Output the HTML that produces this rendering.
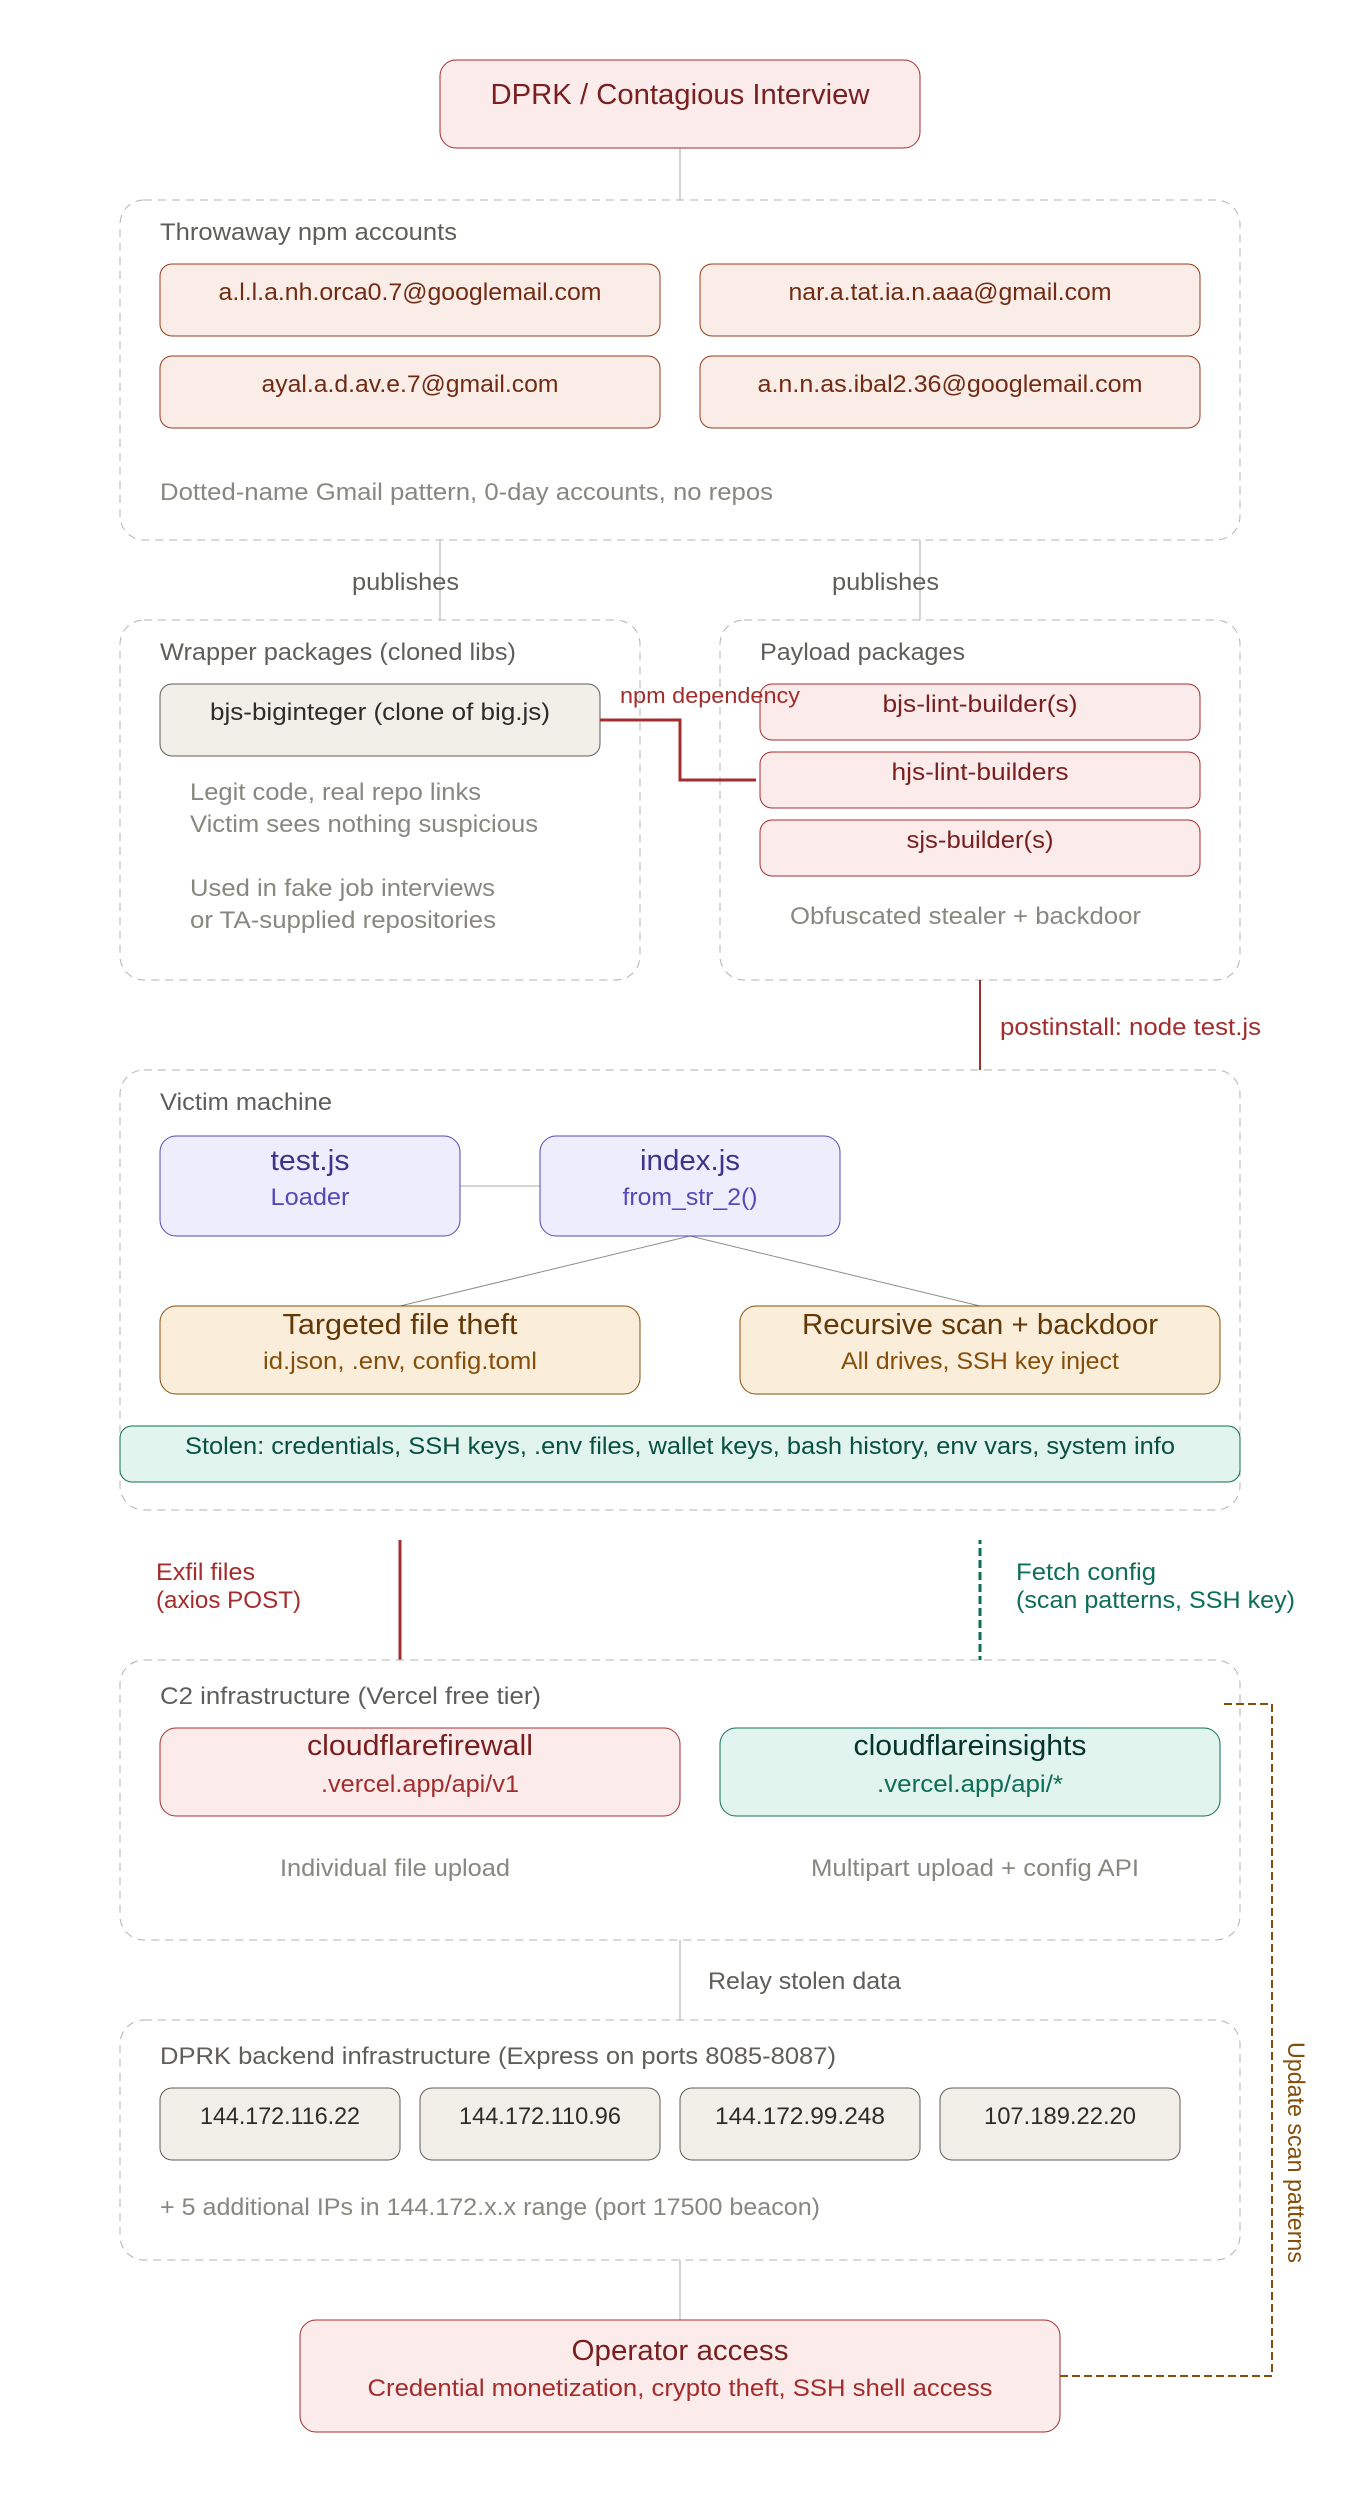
<!DOCTYPE html>
<html lang="en">
<head>
<meta charset="utf-8">
<title>DPRK / Contagious Interview</title>
<style>
html,body{margin:0;padding:0;background:#fff}
svg{display:block}
text{font-family:"Liberation Sans",sans-serif;font-size:24.5px}
.t{font-size:28.5px;text-anchor:middle}
.c{text-anchor:middle}
.lab{fill:#5F5E5A}
.mut{fill:#888780}
.cont{fill:none;stroke:#B4B3AB;stroke-width:1;stroke-dasharray:8 6}
.ln{fill:none;stroke:#AAAAA6;stroke-width:1}
.red{fill:#FCEBEB;stroke:#A32D2D;stroke-width:1}
.cor{fill:#FAECE7;stroke:#993C1D;stroke-width:1}
.gry{fill:#F1EFE8;stroke:#5F5E5A;stroke-width:1}
.pur{fill:#EEEDFE;stroke:#534AB7;stroke-width:1}
.amb{fill:#FAEEDA;stroke:#854F0B;stroke-width:1}
.tea{fill:#E1F5EE;stroke:#0F6E56;stroke-width:1}
</style>
</head>
<body>
<svg xmlns="http://www.w3.org/2000/svg" width="1360" height="2520" viewBox="0 0 1360 2520">
<rect width="1360" height="2520" fill="#fff"/>

<!-- connectors under -->
<path class="ln" d="M680 148V200M440 540V620M920 540V620M680 1940V2020M680 2260V2320M460 1186H540"/>
<path d="M690 1236L400 1306M690 1236L980 1306" fill="none" stroke="#8E8E88" stroke-width="1"/>

<!-- top -->
<rect class="red" x="440" y="60" width="480" height="88" rx="16"/>
<text class="t" x="680" y="104" fill="#791F1F" textLength="379" lengthAdjust="spacingAndGlyphs">DPRK / Contagious Interview</text>

<!-- accounts -->
<rect class="cont" x="120" y="200" width="1120" height="340" rx="24"/>
<text class="lab" x="160" y="240" textLength="297" lengthAdjust="spacingAndGlyphs">Throwaway npm accounts</text>
<rect class="cor" x="160" y="264" width="500" height="72" rx="12"/>
<rect class="cor" x="700" y="264" width="500" height="72" rx="12"/>
<rect class="cor" x="160" y="356" width="500" height="72" rx="12"/>
<rect class="cor" x="700" y="356" width="500" height="72" rx="12"/>
<text class="c" x="410" y="300" fill="#712B13" textLength="383" lengthAdjust="spacingAndGlyphs">a.l.l.a.nh.orca0.7@googlemail.com</text>
<text class="c" x="950" y="300" fill="#712B13" textLength="323" lengthAdjust="spacingAndGlyphs">nar.a.tat.ia.n.aaa@gmail.com</text>
<text class="c" x="410" y="392" fill="#712B13" textLength="297" lengthAdjust="spacingAndGlyphs">ayal.a.d.av.e.7@gmail.com</text>
<text class="c" x="950" y="392" fill="#712B13" textLength="385" lengthAdjust="spacingAndGlyphs">a.n.n.as.ibal2.36@googlemail.com</text>
<text class="mut" x="160" y="500" textLength="613" lengthAdjust="spacingAndGlyphs">Dotted-name Gmail pattern, 0-day accounts, no repos</text>

<text class="lab" x="352" y="590" textLength="107" lengthAdjust="spacingAndGlyphs">publishes</text>
<text class="lab" x="832" y="590" textLength="107" lengthAdjust="spacingAndGlyphs">publishes</text>

<!-- wrapper -->
<rect class="cont" x="120" y="620" width="520" height="360" rx="24"/>
<text class="lab" x="160" y="660" textLength="356" lengthAdjust="spacingAndGlyphs">Wrapper packages (cloned libs)</text>
<rect class="gry" x="160" y="684" width="440" height="72" rx="12"/>
<text class="c" x="380" y="720" fill="#2C2C2A" textLength="340" lengthAdjust="spacingAndGlyphs">bjs-biginteger (clone of big.js)</text>
<text class="mut" x="190" y="800" textLength="291" lengthAdjust="spacingAndGlyphs">Legit code, real repo links</text>
<text class="mut" x="190" y="832" textLength="348" lengthAdjust="spacingAndGlyphs">Victim sees nothing suspicious</text>
<text class="mut" x="190" y="896" textLength="305" lengthAdjust="spacingAndGlyphs">Used in fake job interviews</text>
<text class="mut" x="190" y="928" textLength="306" lengthAdjust="spacingAndGlyphs">or TA-supplied repositories</text>

<!-- payload -->
<rect class="cont" x="720" y="620" width="520" height="360" rx="24"/>
<text class="lab" x="760" y="660" textLength="205" lengthAdjust="spacingAndGlyphs">Payload packages</text>
<rect class="red" x="760" y="684" width="440" height="56" rx="12"/>
<rect class="red" x="760" y="752" width="440" height="56" rx="12"/>
<rect class="red" x="760" y="820" width="440" height="56" rx="12"/>
<text class="c" x="980" y="712" fill="#791F1F" textLength="195" lengthAdjust="spacingAndGlyphs">bjs-lint-builder(s)</text>
<text class="c" x="980" y="780" fill="#791F1F" textLength="177" lengthAdjust="spacingAndGlyphs">hjs-lint-builders</text>
<text class="c" x="980" y="848" fill="#791F1F" textLength="147" lengthAdjust="spacingAndGlyphs">sjs-builder(s)</text>
<text class="mut" x="790" y="924" textLength="351" lengthAdjust="spacingAndGlyphs">Obfuscated stealer + backdoor</text>

<path d="M600 720H680V780H756" fill="none" stroke="#A32D2D" stroke-width="3"/>
<text x="620" y="703" fill="#A32D2D" style="font-size:22.5px" textLength="180" lengthAdjust="spacingAndGlyphs">npm dependency</text>

<path d="M980 980V1070" fill="none" stroke="#A32D2D" stroke-width="2"/>
<text x="1000" y="1035" fill="#A32D2D" textLength="261" lengthAdjust="spacingAndGlyphs">postinstall: node test.js</text>

<!-- victim -->
<rect class="cont" x="120" y="1070" width="1120" height="440" rx="24"/>
<text class="lab" x="160" y="1110" textLength="172" lengthAdjust="spacingAndGlyphs">Victim machine</text>
<rect class="pur" x="160" y="1136" width="300" height="100" rx="16"/>
<rect class="pur" x="540" y="1136" width="300" height="100" rx="16"/>
<text class="t" x="310" y="1170" fill="#3C3489" textLength="79" lengthAdjust="spacingAndGlyphs">test.js</text>
<text class="c" x="310" y="1205" fill="#534AB7" textLength="79" lengthAdjust="spacingAndGlyphs">Loader</text>
<text class="t" x="690" y="1170" fill="#3C3489" textLength="100" lengthAdjust="spacingAndGlyphs">index.js</text>
<text class="c" x="690" y="1205" fill="#534AB7" textLength="135" lengthAdjust="spacingAndGlyphs">from_str_2()</text>
<rect class="amb" x="160" y="1306" width="480" height="88" rx="16"/>
<rect class="amb" x="740" y="1306" width="480" height="88" rx="16"/>
<text class="t" x="400" y="1334" fill="#633806" textLength="235" lengthAdjust="spacingAndGlyphs">Targeted file theft</text>
<text class="c" x="400" y="1369" fill="#854F0B" textLength="274" lengthAdjust="spacingAndGlyphs">id.json, .env, config.toml</text>
<text class="t" x="980" y="1334" fill="#633806" textLength="356" lengthAdjust="spacingAndGlyphs">Recursive scan + backdoor</text>
<text class="c" x="980" y="1369" fill="#854F0B" textLength="278" lengthAdjust="spacingAndGlyphs">All drives, SSH key inject</text>
<rect class="tea" x="120" y="1426" width="1120" height="56" rx="12"/>
<text class="c" x="680" y="1454" fill="#085041" textLength="990" lengthAdjust="spacingAndGlyphs">Stolen: credentials, SSH keys, .env files, wallet keys, bash history, env vars, system info</text>

<!-- exfil / fetch -->
<path d="M398 1540V1660" fill="none" stroke="#A32D2D" stroke-width="3" transform="translate(2,0)"/>
<path d="M980 1540V1660" fill="none" stroke="#0F6E56" stroke-width="3" stroke-dasharray="8 4" stroke-dashoffset="4"/>
<text x="156" y="1580" fill="#A32D2D" textLength="99" lengthAdjust="spacingAndGlyphs">Exfil files</text>
<text x="156" y="1608" fill="#A32D2D" textLength="145" lengthAdjust="spacingAndGlyphs">(axios POST)</text>
<text x="1012" y="1580" fill="#0F6E56" textLength="140" lengthAdjust="spacingAndGlyphs" transform="translate(4,0)">Fetch config</text>
<text x="1012" y="1608" fill="#0F6E56" textLength="279" lengthAdjust="spacingAndGlyphs" transform="translate(4,0)">(scan patterns, SSH key)</text>

<!-- c2 -->
<rect class="cont" x="120" y="1660" width="1120" height="280" rx="24"/>
<text class="lab" x="160" y="1704" textLength="381" lengthAdjust="spacingAndGlyphs">C2 infrastructure (Vercel free tier)</text>
<rect class="red" x="160" y="1728" width="520" height="88" rx="16"/>
<rect class="tea" x="720" y="1728" width="500" height="88" rx="16"/>
<text class="t" x="420" y="1755" fill="#791F1F" textLength="226" lengthAdjust="spacingAndGlyphs">cloudflarefirewall</text>
<text class="c" x="420" y="1792" fill="#A32D2D" textLength="198" lengthAdjust="spacingAndGlyphs">.vercel.app/api/v1</text>
<text class="t" x="970" y="1755" fill="#04342C" textLength="233" lengthAdjust="spacingAndGlyphs">cloudflareinsights</text>
<text class="c" x="970" y="1792" fill="#0F6E56" textLength="186" lengthAdjust="spacingAndGlyphs">.vercel.app/api/*</text>
<text class="mut" x="280" y="1876" textLength="230" lengthAdjust="spacingAndGlyphs">Individual file upload</text>
<text class="mut" x="811" y="1876" textLength="328" lengthAdjust="spacingAndGlyphs">Multipart upload + config API</text>

<text class="lab" x="708" y="1989" textLength="193" lengthAdjust="spacingAndGlyphs">Relay stolen data</text>

<!-- backend -->
<rect class="cont" x="120" y="2020" width="1120" height="240" rx="24"/>
<text class="lab" x="160" y="2064" textLength="676" lengthAdjust="spacingAndGlyphs">DPRK backend infrastructure (Express on ports 8085-8087)</text>
<rect class="gry" x="160" y="2088" width="240" height="72" rx="12"/>
<rect class="gry" x="420" y="2088" width="240" height="72" rx="12"/>
<rect class="gry" x="680" y="2088" width="240" height="72" rx="12"/>
<rect class="gry" x="940" y="2088" width="240" height="72" rx="12"/>
<text class="c" x="280" y="2124" fill="#2C2C2A" textLength="160" lengthAdjust="spacingAndGlyphs">144.172.116.22</text>
<text class="c" x="540" y="2124" fill="#2C2C2A" textLength="162" lengthAdjust="spacingAndGlyphs">144.172.110.96</text>
<text class="c" x="800" y="2124" fill="#2C2C2A" textLength="170" lengthAdjust="spacingAndGlyphs">144.172.99.248</text>
<text class="c" x="1060" y="2124" fill="#2C2C2A" textLength="152" lengthAdjust="spacingAndGlyphs">107.189.22.20</text>
<text class="mut" x="160" y="2215" textLength="660" lengthAdjust="spacingAndGlyphs">+ 5 additional IPs in 144.172.x.x range (port 17500 beacon)</text>

<!-- operator -->
<rect class="red" x="300" y="2320" width="760" height="112" rx="16"/>
<text class="t" x="680" y="2360" fill="#791F1F" textLength="217" lengthAdjust="spacingAndGlyphs">Operator access</text>
<text class="c" x="680" y="2396" fill="#A32D2D" textLength="625" lengthAdjust="spacingAndGlyphs">Credential monetization, crypto theft, SSH shell access</text>

<path d="M1060 2376H1272V1704H1224" fill="none" stroke="#854F0B" stroke-width="2" stroke-dasharray="8 4"/>
<text transform="translate(1288,2042) rotate(90)" fill="#854F0B" textLength="221" lengthAdjust="spacingAndGlyphs">Update scan patterns</text>
</svg>
</body>
</html>
